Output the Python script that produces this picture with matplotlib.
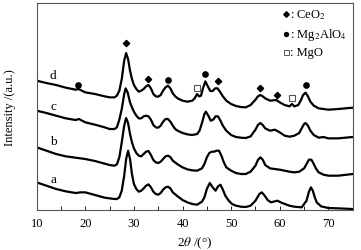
import numpy as np
import matplotlib
matplotlib.use("Agg")
import matplotlib.pyplot as plt
from matplotlib.ticker import MultipleLocator

plt.rcParams['font.family'] = ['Liberation Serif', 'DejaVu Serif']
plt.rcParams['mathtext.fontset'] = 'stix'

# XRD patterns (2theta in degrees, intensity in a.u. incl. offset)
tth_a = [10, 12, 14, 16, 18, 19, 20, 22, 24, 25, 26, 26.5, 27, 27.5, 28, 28.4, 28.8, 29.2, 29.6, 30,
         30.5, 31, 31.5, 32, 32.5, 33, 33.5, 34, 34.5, 35, 35.5, 36, 36.5, 37, 37.5, 38, 39, 40, 41, 42,
         43, 44, 44.5, 45, 45.6, 46.2, 46.8, 47.3, 47.8, 48.3, 48.8, 49.5, 50.2, 51, 52, 53, 54, 55, 55.8,
         56.3, 56.8, 57.5, 58.2, 59.5, 60.5, 62, 63, 64.5, 65.5, 66, 66.4, 66.8, 67.2, 67.6, 68.5, 70, 72, 75]
int_a = [82, 72, 62, 55, 50, 52, 52, 44, 36, 34, 32, 32, 37, 57, 102, 152, 177, 152, 107, 77,
         62, 54, 57, 64, 72, 76, 67, 54, 47, 45, 50, 60, 67, 69, 64, 52, 40, 29, 22, 17,
         15, 24, 37, 62, 80, 67, 57, 70, 75, 60, 42, 27, 17, 12, 9, 8, 12, 27, 47,
         52, 44, 29, 22, 27, 20, 12, 9, 7, 27, 54, 67, 57, 37, 22, 10, 5, 4, 2]

tth_b = [10, 12, 14, 16, 18, 20, 22, 24, 25, 26, 26.5, 27, 27.5, 28, 28.4, 28.8, 29.2, 29.6, 30, 30.5,
         31, 31.5, 32, 32.5, 33, 33.5, 34, 34.5, 35, 35.5, 36, 36.5, 37, 37.5, 38, 39, 40, 41, 42, 43,
         44, 44.5, 45, 45.5, 46, 46.5, 47, 47.5, 48, 48.5, 49, 50, 51, 52, 53, 54, 55, 55.5, 56, 56.5,
         57, 58, 59, 60, 61, 62, 63, 64, 65, 65.5, 66, 66.5, 67, 67.5, 68, 69, 70, 72, 75]
int_b = [187, 177, 167, 160, 156, 152, 146, 138, 134, 132, 136, 157, 202, 252, 275, 260, 227, 202, 184, 170,
         162, 160, 167, 174, 176, 164, 149, 142, 140, 144, 152, 160, 162, 158, 147, 136, 127, 121, 118, 117,
         124, 137, 157, 170, 174, 174, 177, 177, 162, 142, 127, 117, 110, 107, 107, 114, 132, 149, 157, 150,
         134, 124, 122, 120, 117, 114, 112, 114, 124, 137, 150, 150, 137, 122, 112, 105, 102, 102, 107]

tth_c = [10, 12, 14, 16, 18, 18.7, 20, 22, 24, 25, 26, 26.5, 27, 27.5, 28, 28.3, 28.7, 29.2, 29.6, 30,
         30.5, 31, 31.5, 32, 32.5, 33, 33.5, 34, 34.5, 35, 35.5, 36, 36.5, 37, 37.5, 38, 38.5, 39, 40, 41,
         42, 43, 43.5, 44, 44.5, 44.8, 45.3, 45.8, 46.3, 46.8, 47.3, 47.8, 48.3, 49, 50, 51, 52, 53, 54, 55,
         55.5, 56, 56.5, 57, 58, 59, 60, 61, 62, 63, 64, 64.5, 65, 65.3, 65.8, 66.3, 67, 68, 69, 70, 72, 75]
int_c = [297, 290, 282, 274, 269, 272, 262, 255, 247, 242, 242, 247, 270, 302, 347, 364, 352, 322, 307, 294,
         282, 274, 274, 280, 282, 280, 270, 254, 247, 246, 252, 264, 272, 272, 264, 252, 242, 237, 230, 226,
         224, 227, 237, 260, 287, 294, 282, 267, 270, 280, 280, 267, 252, 237, 224, 218, 216, 215, 220, 240,
         254, 260, 254, 244, 237, 240, 232, 222, 219, 222, 230, 244, 257, 260, 252, 237, 224, 216, 218, 214, 214, 218]

tth_d = [10, 12, 14, 16, 18, 18.6, 20, 22, 24, 25, 26, 26.5, 27, 27.5, 28, 28.4, 28.8, 29.2, 29.6, 30,
         30.5, 31, 31.5, 32, 32.5, 33, 33.5, 34, 34.5, 35, 35.5, 36, 36.5, 37, 37.5, 38, 38.5, 39, 40, 41,
         42, 42.5, 43, 43.4, 43.8, 44.2, 44.7, 45.2, 45.7, 46.2, 46.7, 47.2, 47.7, 48.3, 49, 50, 51, 52, 53, 54,
         55, 55.5, 56, 56.5, 57, 58, 59.3, 60, 61, 62, 62.5, 63, 63.8, 64.3, 64.8, 65.3, 65.8, 66.3, 67, 68,
         70, 72, 75]
int_d = [387, 380, 374, 366, 360, 362, 352, 347, 340, 337, 337, 342, 357, 392, 447, 470, 452, 417, 392, 374,
         362, 354, 357, 362, 370, 374, 364, 347, 340, 339, 344, 357, 367, 372, 364, 349, 340, 334, 327, 324,
         327, 334, 347, 340, 342, 364, 385, 370, 356, 356, 364, 364, 354, 340, 327, 317, 311, 308, 307, 314,
         330, 340, 344, 340, 334, 327, 329, 322, 314, 310, 317, 310, 314, 327, 344, 351, 340, 324, 312, 304,
         300, 302, 306]

# curve labels
labels = ['a', 'b', 'c', 'd']
label_pos = [(13.4, 92), (13.4, 207), (13.4, 312), (13.4, 404)]

# phase markers on curve d
ceo2_x = [28.4, 33.0, 47.2, 56.0, 59.5]
ceo2_y = [500, 392, 387, 364, 344]
spinel_x = [18.6, 37.0, 44.7, 65.3]
spinel_y = [375, 389, 407, 374]
mgo_x = [43.0, 62.5]
mgo_y = [365, 334]

fig = plt.figure(figsize=(3.61, 2.51), dpi=100)
ax = fig.add_axes([0.1016, 0.1606, 0.8754, 0.8234])

for t, y in [(tth_a, int_a), (tth_b, int_b), (tth_c, int_c), (tth_d, int_d)]:
    ax.plot(t, y, color='black', lw=1.6)

for lab, (x, y) in zip(labels, label_pos):
    ax.text(x, y, lab, fontsize=9.5, ha='center', va='center')

ax.plot(ceo2_x, ceo2_y, 'D', color='black', ms=3.2, ls='none')
ax.plot(spinel_x, spinel_y, 'o', color='black', ms=3.8, ls='none')
ax.plot(mgo_x, mgo_y, 's', mfc='white', mec='#555555', mew=0.8, ms=4.3, ls='none')

# legend drawn by hand
leg_x = 0.789
rows = [0.947, 0.850, 0.763]
ax.plot([leg_x], [rows[0]], 'D', color='black', ms=2.8, transform=ax.transAxes)
ax.plot([leg_x], [rows[1]], 'o', color='black', ms=2.8, transform=ax.transAxes)
ax.plot([leg_x], [rows[2]], 's', mfc='white', mec='#555555', mew=0.7, ms=3.6, transform=ax.transAxes)
ax.text(leg_x + 0.014, rows[0], ': CeO$_2$', transform=ax.transAxes, fontsize=9, va='center')
ax.text(leg_x + 0.014, rows[1], ': Mg$_2$AlO$_4$', transform=ax.transAxes, fontsize=9, va='center')
ax.text(leg_x + 0.014, rows[2], ': MgO', transform=ax.transAxes, fontsize=9, va='center')

ax.set_xlim(10, 75)
ax.set_ylim(0, 620)
ax.xaxis.set_major_locator(MultipleLocator(10))
ax.xaxis.set_minor_locator(MultipleLocator(5))
ax.tick_params(axis='x', which='both', direction='in', length=3, width=0.6, labelsize=9, pad=5)
ax.tick_params(axis='y', which='both', left=False, labelleft=False)
for s in ax.spines.values():
    s.set_color('#555555')
    s.set_linewidth(0.8)

ax.set_xlabel(r'2$\mathit{\theta}$ /(°)', fontsize=9.5)
ax.set_ylabel('Intensity /(a.u.)', fontsize=9)
ax.xaxis.set_label_coords(0.50, -0.156)
ax.yaxis.set_label_coords(-0.084, 0.50)
ax.xaxis.label.set_va('center')
ax.yaxis.label.set_va('center')

fig.savefig('out.png', dpi=100)
